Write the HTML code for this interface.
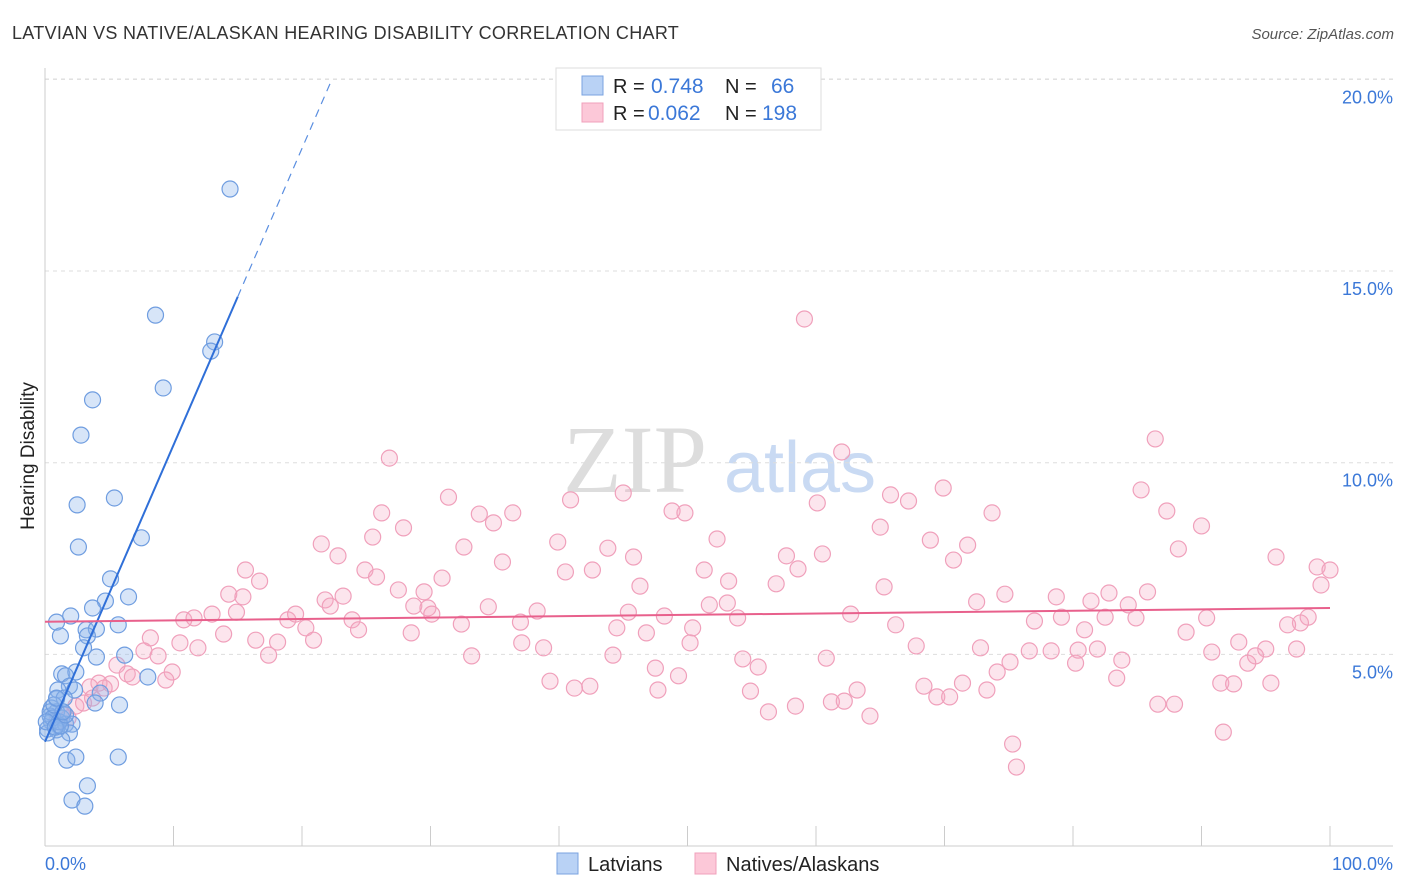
<!DOCTYPE html>
<html><head><meta charset="utf-8"><style>
body{margin:0;background:#fff;font-family:"Liberation Sans",sans-serif;}
svg{display:block}
</style></head><body>
<svg id="chart" width="1406" height="892">
<text x="12" y="39" font-size="18" letter-spacing="0.3" fill="#333">LATVIAN VS NATIVE/ALASKAN HEARING DISABILITY CORRELATION CHART</text>
<text x="1394" y="39" font-size="15" fill="#555" text-anchor="end" font-style="italic">Source: ZipAtlas.com</text>
<text x="34" y="456" font-size="19" fill="#222" text-anchor="middle" transform="rotate(-90 34 456)">Hearing Disability</text>
<g><text x="635" y="492" font-size="96" fill="#ddd" text-anchor="middle" font-family="Liberation Serif,serif">ZIP</text><text x="800" y="492" font-size="72" fill="#c9daf3" text-anchor="middle">atlas</text></g>
<g id="grid"></g><g id="axes"></g><g id="pts"></g><g id="trends"></g>
<g>
<rect x="556" y="68" width="265" height="62" fill="#fff" stroke="#ddd"/>
<rect x="582" y="76" width="21" height="19" fill="#b9d2f5" stroke="#7aa3e0"/>
<rect x="582" y="103" width="21" height="19" fill="#fcc8d8" stroke="#f0a0bb"/>
<text x="613" y="93" font-size="20" fill="#222">R = </text><text x="651" y="93" font-size="21" fill="#3b78d8">0.748</text>
<text x="725" y="93" font-size="20" fill="#222">N = </text><text x="771" y="93" font-size="21" fill="#3b78d8">66</text>
<text x="613" y="120" font-size="20" fill="#222">R = </text><text x="648" y="120" font-size="21" fill="#3b78d8">0.062</text>
<text x="725" y="120" font-size="20" fill="#222">N = </text><text x="762" y="120" font-size="21" fill="#3b78d8">198</text>
</g>
<g>
<rect x="557" y="853" width="21" height="21" fill="#b9d2f5" stroke="#7aa3e0"/><text x="588" y="871" font-size="20" fill="#222">Latvians</text>
<rect x="695" y="853" width="21" height="21" fill="#fcc8d8" stroke="#f0a0bb"/><text x="726" y="871" font-size="20" fill="#222">Natives/Alaskans</text>
</g>
</svg>
<script>
const yTicks=[5,10,15,20];
const yTickLabels=["5.0%","10.0%","15.0%","20.0%"];
const blueX=[14.4,8.6,13.2,12.9,9.2,3.7,2.8,2.5,5.4,7.5,2.6,5.1,6.5,4.7,3.7,2.0,0.9,3.2,4.0,5.7,1.2,3.3,3.0,4.0,6.2,8.0,1.3,2.4,1.6,1.9,1.0,2.3,4.3,0.9,1.5,3.9,5.8,0.5,0.9,0.4,1.3,0.5,1.0,0.2,1.6,2.1,0.9,1.9,1.3,5.7,1.7,2.4,3.3,2.1,3.1,0.2,0.4,0.6,1.1,0.1,0.8,1.2,1.6,1.4,0.7,0.9];
const blueY=[17.14,13.85,13.15,12.91,11.95,11.64,10.72,8.9,9.08,8.04,7.8,6.97,6.5,6.39,6.21,6.0,5.84,5.64,5.66,5.77,5.48,5.48,5.17,4.93,4.98,4.41,4.49,4.54,4.44,4.17,4.07,4.07,3.99,3.84,3.86,3.73,3.68,3.6,3.5,3.39,3.34,3.24,3.16,3.05,3.18,3.18,3.03,2.95,2.77,2.32,2.24,2.32,1.57,1.2,1.04,2.95,3.5,3.34,3.24,3.24,3.1,3.13,3.42,3.5,3.68,3.86];
const pinkX=[59.1,86.4,62.0,26.8,31.4,40.9,45.0,69.9,85.3,65.8,67.2,60.1,26.2,33.8,36.4,48.8,49.8,73.7,87.3,27.9,34.9,65.0,90.0,21.5,25.5,32.6,39.9,43.8,52.3,68.9,71.8,88.2,22.8,35.6,45.8,57.7,60.5,70.7,95.8,15.6,16.7,24.9,25.8,30.9,40.5,42.6,51.3,53.2,58.6,99.0,100.0,14.3,15.4,27.5,29.5,46.3,56.9,65.3,74.7,78.7,82.8,85.8,99.3,21.8,22.2,23.2,28.7,29.8,30.1,34.5,38.3,45.4,48.2,51.7,53.1,62.7,72.5,81.4,84.3,77.0,79.1,82.5,84.9,90.4,98.3,10.8,11.6,13.0,14.9,18.9,19.5,20.3,23.9,24.4,32.4,37.0,44.5,46.8,50.4,53.9,66.2,80.9,88.8,97.7,96.7,8.2,10.5,11.9,13.9,16.4,18.1,20.9,28.5,37.1,38.8,50.2,67.8,72.8,76.6,78.3,80.4,81.9,90.8,92.9,95.0,97.4,7.7,8.8,17.4,33.2,44.2,54.3,60.8,75.1,80.2,83.8,94.2,93.6,5.6,6.4,9.9,9.4,6.8,5.1,4.2,3.5,4.6,47.5,55.5,74.1,83.4,39.3,41.2,42.4,49.3,47.7,54.9,63.2,68.4,71.4,91.5,95.4,92.5,73.3,61.2,62.2,69.4,70.4,86.6,87.9,58.4,56.3,64.2,91.7,75.3,75.6,1.3,1.8,2.4,3.0,3.7,0.9];
const pinkY=[13.75,10.62,10.28,10.12,9.1,9.03,9.21,9.34,9.29,9.16,9.0,8.95,8.69,8.66,8.69,8.74,8.69,8.69,8.74,8.3,8.43,8.32,8.35,7.88,8.06,7.8,7.93,7.77,8.01,7.98,7.85,7.75,7.57,7.41,7.54,7.57,7.62,7.46,7.54,7.2,6.91,7.2,7.02,6.99,7.15,7.2,7.2,6.91,7.23,7.28,7.2,6.57,6.5,6.68,6.63,6.78,6.84,6.76,6.57,6.5,6.6,6.63,6.81,6.42,6.26,6.52,6.26,6.21,6.05,6.24,6.13,6.1,6.0,6.29,6.34,6.05,6.37,6.39,6.29,5.87,5.97,5.97,5.95,5.95,5.97,5.9,5.95,6.05,6.1,5.9,6.05,5.69,5.9,5.64,5.79,5.84,5.69,5.56,5.69,5.95,5.77,5.64,5.58,5.82,5.77,5.43,5.3,5.17,5.53,5.37,5.32,5.37,5.56,5.3,5.17,5.3,5.22,5.17,5.09,5.09,5.11,5.14,5.06,5.32,5.14,5.14,5.09,4.96,4.98,4.96,4.98,4.88,4.9,4.8,4.77,4.85,4.96,4.77,4.72,4.49,4.54,4.33,4.41,4.23,4.25,4.15,4.12,4.64,4.67,4.54,4.38,4.3,4.12,4.17,4.44,4.07,4.04,4.07,4.17,4.25,4.25,4.25,4.23,4.07,3.76,3.78,3.89,3.89,3.7,3.7,3.65,3.5,3.39,2.97,2.66,2.06,3.44,3.34,3.65,3.73,3.86,3.24];
const blueTrend=[2.72,0.774]; // intercept, slope
const pinkTrend=[5.85,0.0036];

const NS="http://www.w3.org/2000/svg";
const X0=45,X1=1330,Y0=846,PPY=38.33;
const xs=v=>X0+v*(X1-X0)/100;
const ys=v=>Y0-v*PPY;
function mk(tag,attrs,parent){const e=document.createElementNS(NS,tag);for(const k in attrs)e.setAttribute(k,attrs[k]);document.getElementById(parent).appendChild(e);return e;}
yTicks.forEach((t,i)=>{
 const l=mk('line',{x1:45,x2:1393,y1:ys(t),y2:ys(t),stroke:'#ddd','stroke-dasharray':'4,4'},'grid');
 
 
 const tx=mk('text',{x:1393,y:ys(t)+24,'font-size':18,fill:'#3b78d8','text-anchor':'end'},'grid');
 tx.textContent=yTickLabels[i];
 
 
});
mk('line',{x1:45,x2:1393,y1:79,y2:79,stroke:'#ddd','stroke-dasharray':'4,4'},'grid');
const ax=mk('line',{x1:45,x2:1393,y1:846,y2:846,stroke:'#ccc'},'axes');


mk('line',{x1:45,x2:45,y1:68,y2:846,stroke:'#ccc'},'axes');
for(let i=0;i<=10;i++){mk('line',{x1:xs(i*10),x2:xs(i*10),y1:826,y2:846,stroke:'#ccc'},'axes');}
let t0=mk('text',{x:45,y:870,'font-size':18,fill:'#3b78d8'},'axes');t0.textContent='0.0%';


let t1=mk('text',{x:1393,y:870,'font-size':18,fill:'#3b78d8','text-anchor':'end'},'axes');t1.textContent='100.0%';


pinkX.forEach((x,i)=>{const c=mk('circle',{cx:xs(x),cy:ys(pinkY[i]),r:8,fill:'rgba(246,170,196,0.3)',stroke:'#f0a0bb','stroke-width':1.2},'pts');
 
 });
blueX.forEach((x,i)=>{const c=mk('circle',{cx:xs(x),cy:ys(blueY[i]),r:8,fill:'rgba(140,180,235,0.35)',stroke:'#6f9de0','stroke-width':1.2},'pts');
 
 });
const bl=mk('line',{x1:xs(0),y1:ys(blueTrend[0]),x2:xs(15),y2:ys(blueTrend[0]+15*blueTrend[1]),stroke:'#2f6fd8','stroke-width':2},'trends');


const bd=mk('line',{x1:xs(15),y1:ys(blueTrend[0]+15*blueTrend[1]),x2:xs(22.3),y2:ys(blueTrend[0]+22.3*blueTrend[1]),stroke:'#5a8ee0','stroke-width':1.2,'stroke-dasharray':'8,6'},'trends');


const pl=mk('line',{x1:xs(0),y1:ys(pinkTrend[0]),x2:xs(100),y2:ys(pinkTrend[0]+100*pinkTrend[1]),stroke:'#e8608c','stroke-width':2},'trends');


</script>
</body></html>
